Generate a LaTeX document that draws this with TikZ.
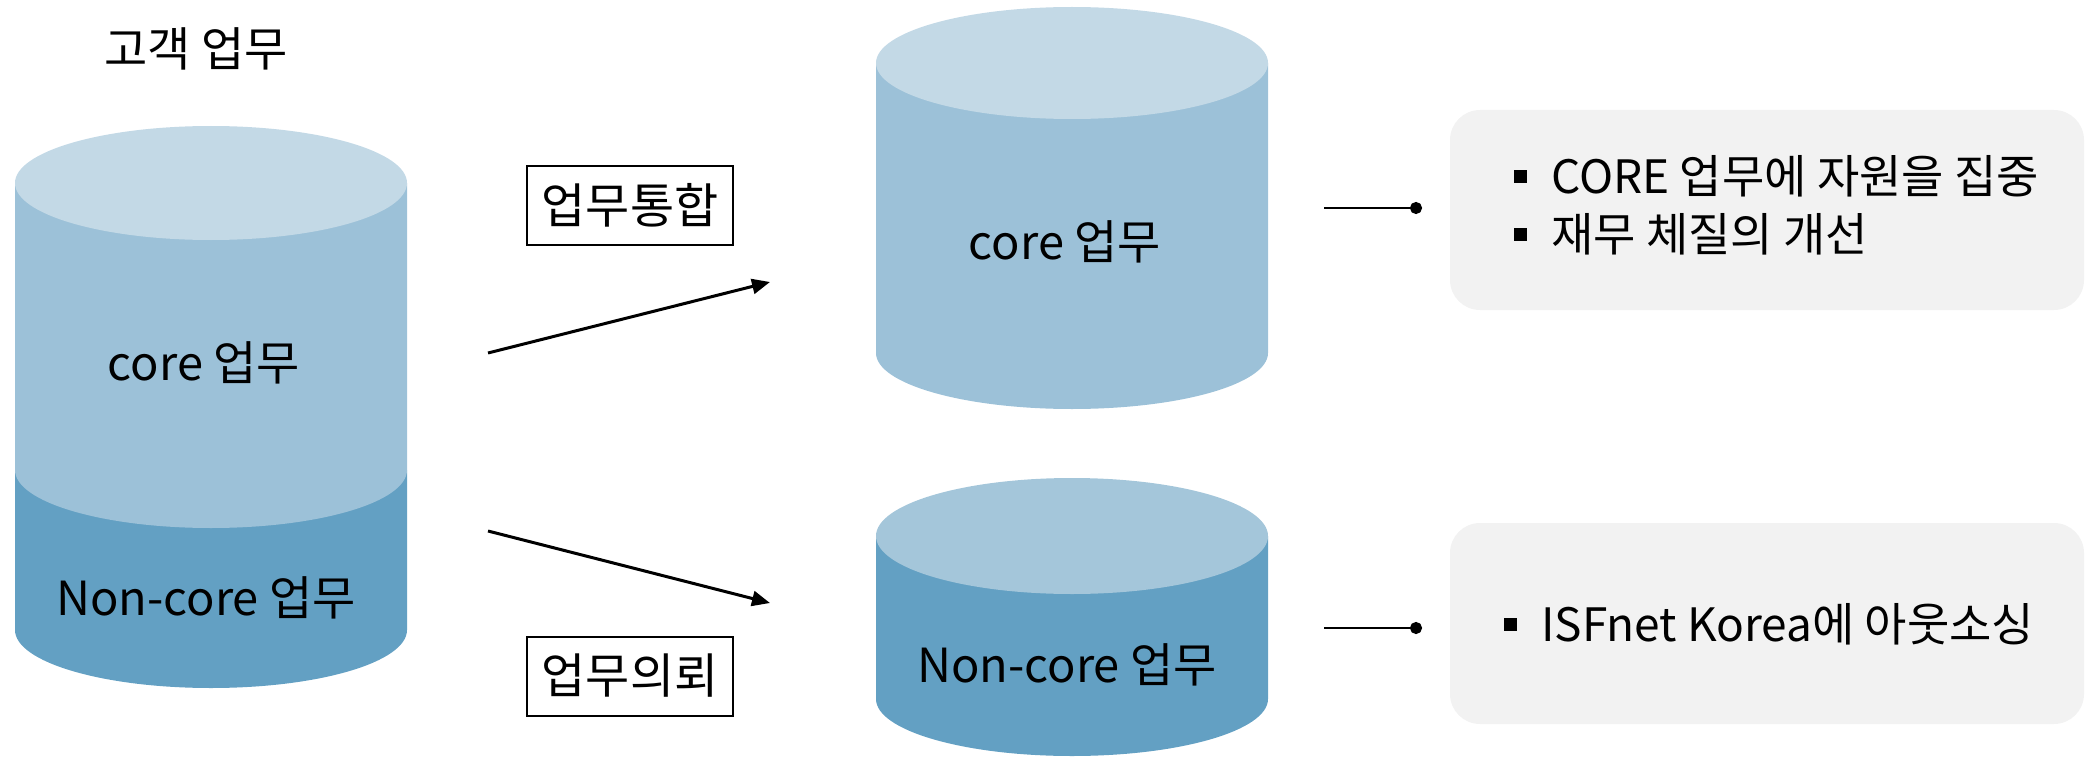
\documentclass[tikz,border=0pt]{standalone}
\usepackage{fontspec}
\setmainfont{Noto Sans CJK KR}
\usetikzlibrary{arrows.meta}
\definecolor{cyltop}{HTML}{C3D9E6}
\definecolor{cylbody}{HTML}{9CC1D8}
\definecolor{cyldark}{HTML}{63A0C3}
\definecolor{cyltoptwo}{HTML}{A4C6DA}
\definecolor{boxgray}{HTML}{F2F2F2}
\newcommand{\sqbul}{\rule[10pt]{13pt}{13pt}\hspace{24pt}}
\begin{document}
\begin{tikzpicture}[x=1pt,y=-1pt,
  big/.style={font=\fontsize{47pt}{55pt}\selectfont, inner sep=0pt},
  tagbox/.style={draw=black, line width=2pt, minimum width=206pt, minimum height=79pt, font=\fontsize{48pt}{52pt}\selectfont},
  infobox/.style={fill=boxgray, rounded corners=30pt, minimum width=634pt},
  infotext/.style={font=\fontsize{46pt}{58pt}\selectfont, align=left, anchor=west, inner sep=0pt},
  flow/.style={line width=3pt, -{Triangle[length=18pt,width=15pt]}},
  link/.style={line width=2.6pt, -{Circle[length=12pt]}}
]
\useasboundingbox (0,0) rectangle (2087,757);
% left cylinder
\fill[cyldark] (15,470) -- (15,630) arc[start angle=180,end angle=360,x radius=196pt,y radius=58pt] -- (407,470) -- cycle;
\fill[cylbody] (15,183) -- (15,470) arc[start angle=180,end angle=360,x radius=196pt,y radius=58pt] -- (407,183) -- cycle;
\fill[cyltop] (211,183) ellipse[x radius=196pt,y radius=57pt];
% middle top cylinder
\fill[cylbody] (876,63) -- (876,353) arc[start angle=180,end angle=360,x radius=196pt,y radius=56pt] -- (1268,63) -- cycle;
\fill[cyltop] (1072,63) ellipse[x radius=196pt,y radius=56pt];
% middle bottom cylinder
\fill[cyldark] (876,536) -- (876,699) arc[start angle=180,end angle=360,x radius=196pt,y radius=57pt] -- (1268,536) -- cycle;
\fill[cyltoptwo] (1072,536) ellipse[x radius=196pt,y radius=58pt];

\node[big] (title) at (196,49) {고객 업무};
\node[big] (lcore) at (204,363) {core 업무};
\node[big] (lnon) at (206,598) {Non-core 업무};
\node[big] (mcore) at (1065,242) {core 업무};
\node[big] (mnon) at (1067,665) {Non-core 업무};

\node[tagbox] (merge) at (630,205) {업무통합};
\node[tagbox] (outs) at (630,676) {업무의뢰};

\coordinate (a1s) at (488,353);
\coordinate (a1e) at (770,282);
\coordinate (a2s) at (488,531);
\coordinate (a2e) at (770,603);
\draw[flow] (a1s) -- (a1e);
\draw[flow] (a2s) -- (a2e);

\node[infobox, minimum height=200pt] (box1) at (1767,210) {};
\node[infobox, minimum height=201pt] (box2) at (1767,623.5) {};
\node[infotext] (t1) at (1514,205) {\sqbul CORE 업무에 자원을 집중\\\sqbul 재무 체질의 개선};
\node[infotext] (t2) at (1504,624) {\sqbul ISFnet Korea에 아웃소싱};

\coordinate (c1s) at (1324,208);
\coordinate (c1e) at (1422,208);
\coordinate (c2s) at (1324,628);
\coordinate (c2e) at (1422,628);
\draw[link] (c1s) -- (c1e);
\draw[link] (c2s) -- (c2e);
\end{tikzpicture}
\end{document}
